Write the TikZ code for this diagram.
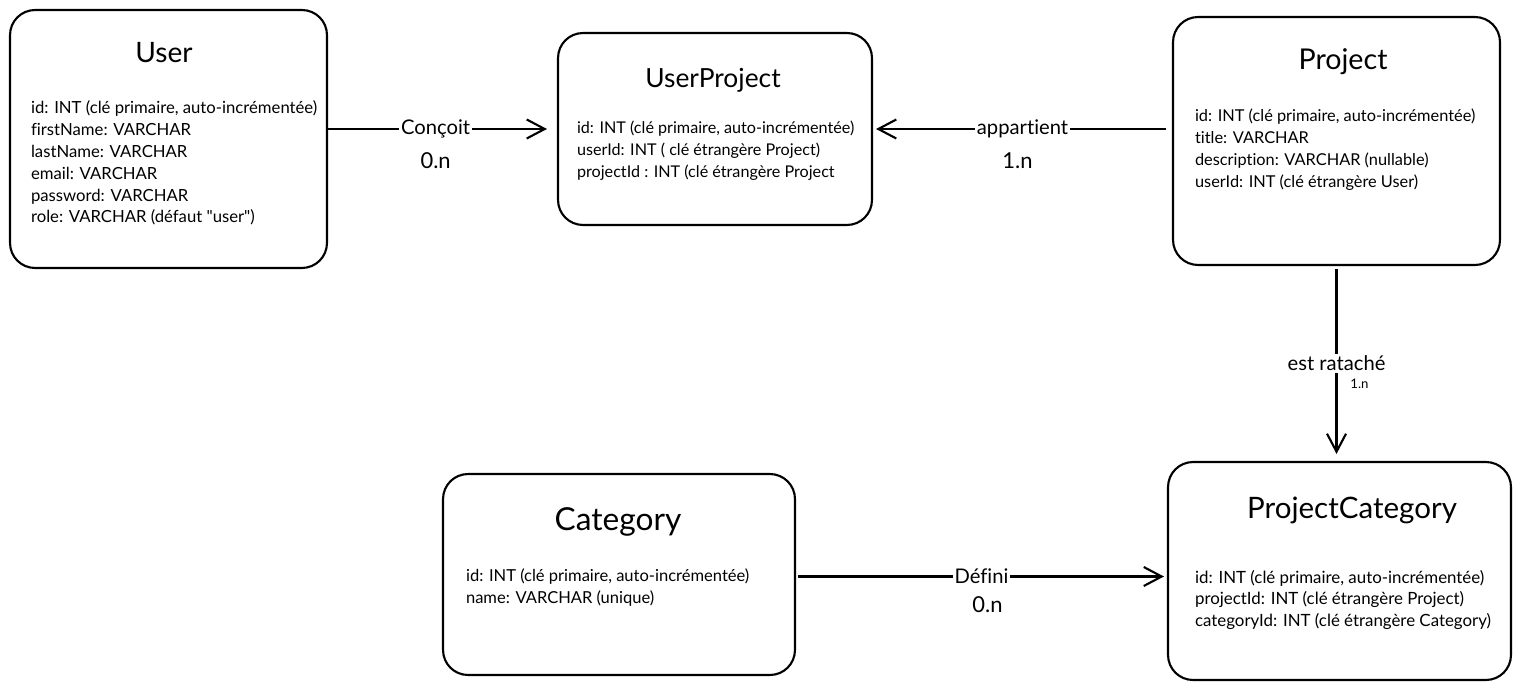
\documentclass[tikz,border=0pt]{standalone}
\usepackage{fontspec}
\setmainfont{Lato}[Ligatures={TeX,NoCommon}]
\usetikzlibrary{arrows.meta}
\begin{document}
\begin{tikzpicture}[x=0.02cm,y=-0.02cm,line width=1.2pt,
	entity/.style={draw,rounded corners=0.5cm,inner sep=0pt},
	titre/.style={font=\fontsize{#1}{20}\selectfont},
	champs/.style={anchor=north west,inner sep=0pt,align=left,font=\fontsize{#1}{12.4}\selectfont},
	rel/.style={-{Straight Barb[length=0.36cm,width=0.38cm,line width=1.2pt]}},
	lien/.style={fill=white,inner sep=1pt,font=\fontsize{11.5}{13}\selectfont},
	card/.style={font=\fontsize{12.5}{14}\selectfont}]
	\useasboundingbox (0,0) rectangle (1520,689);
	% les entites
	\node[entity,minimum width=6.34cm,minimum height=5.16cm] (user) at (168.5,139) {};
	\node[entity,minimum width=6.28cm,minimum height=3.84cm] (userproject) at (715,129) {};
	\node[entity,minimum width=6.54cm,minimum height=4.96cm] (project) at (1336.5,141) {};
	\node[entity,minimum width=6.86cm,minimum height=4.36cm] (projectcategory) at (1339.5,571) {};
	\node[entity,minimum width=7.04cm,minimum height=4.02cm] (category) at (619,574.5) {};
	\node[titre=16] (userT) at (164,53) {User};
	\node[titre=15] (userprojectT) at (713,80) {UserProject};
	\node[titre=16.3] (projectT) at (1343,62) {Project};
	\node[titre=16.8] (projectcategoryT) at (1352,510) {ProjectCategory};
	\node[titre=18] (categoryT) at (618,522) {Category};
	\node[champs=9.5] (userC) at (30,100) {id: INT (clé primaire, auto-incrémentée)\\firstName: VARCHAR\\lastName: VARCHAR\\email: VARCHAR\\password: VARCHAR\\role: VARCHAR (défaut \textquotedbl user\textquotedbl)};
	\node[champs=9.2] (userprojectC) at (576,120) {id: INT (clé primaire, auto-incrémentée)\\userId: INT ( clé étrangère Project)\\projectId : INT (clé étrangère Project};
	\node[champs=9.3] (projectC) at (1194,108) {id: INT (clé primaire, auto-incrémentée)\\title: VARCHAR\\description: VARCHAR (nullable)\\userId: INT (clé étrangère User)};
	\node[champs=9.6] (projectcategoryC) at (1194,569) {id: INT (clé primaire, auto-incrémentée)\\projectId: INT (clé étrangère Project)\\categoryId: INT (clé étrangère Category)};
	\node[champs=9.4] (categoryC) at (465,568) {id: INT (clé primaire, auto-incrémentée)\\name: VARCHAR (unique)};
	% les associations
	\draw[rel,shorten >=0.2cm] (userproject.west -| user.east) -- node[lien,pos=0.47] (concoit) {Conçoit} (userproject.west);
	\node[card,below=0.34cm] (concoitC) at (concoit) {0.n};
	\draw[rel,shorten <=0.12cm,shorten >=0.06cm] (userproject.east -| project.west) -- node[lien] (appartient) {appartient} (userproject.east);
	\node[card,below=0.34cm,xshift=-0.1cm] (appartientC) at (appartient) {1.n};
	\draw[rel,shorten <=0.06cm,shorten >=0.14cm] (project.south) -- node[lien] (ratache) {est rataché} (project.south |- projectcategory.north);
	\node[font=\fontsize{7.5}{9}\selectfont] (ratacheC) at ([xshift=0.46cm,yshift=-0.4cm]ratache) {1.n};
	\draw[rel,shorten <=0.04cm,shorten >=0.06cm] ([yshift=-0.04cm]category.east) -- node[lien] (defini) {Défini} ([yshift=-0.04cm]category.east -| projectcategory.west);
	\node[card,below=0.26cm,xshift=0.12cm] (definiC) at (defini) {0.n};
\end{tikzpicture}
\end{document}
